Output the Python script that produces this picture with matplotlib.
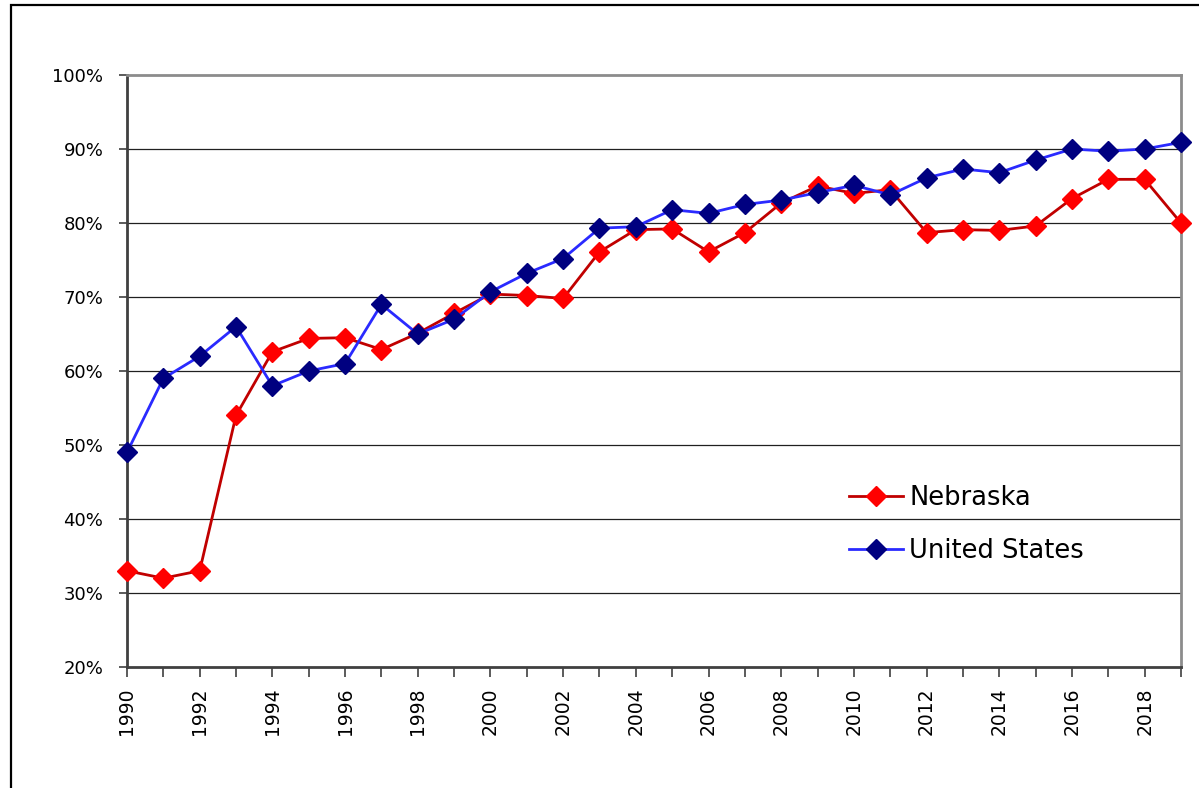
import matplotlib.pyplot as plt
from matplotlib.patches import Rectangle
from matplotlib.ticker import FuncFormatter

years = list(range(1990, 2020))
nebraska = [33, 32, 33, 54, 62.6, 64.4, 64.5, 62.9, 65.1, 67.8,
            70.4, 70.2, 69.8, 76.1, 79.1, 79.2, 76.1, 78.7, 82.7, 85.0,
            84.0, 84.5, 78.7, 79.1, 79.0, 79.6, 83.3, 85.9, 85.9, 80.0]
united_states = [49, 59, 62, 66, 58, 60, 61, 69, 65, 67,
                 70.7, 73.2, 75.2, 79.3, 79.5, 81.8, 81.3, 82.5, 83.1, 84.1,
                 85.1, 83.8, 86.1, 87.3, 86.8, 88.5, 90.0, 89.7, 90.0, 90.9]

fig = plt.figure(figsize=(11.99, 7.88), dpi=100)
ax = fig.add_axes([127 / 1199, 1 - 667 / 788, (1181 - 127) / 1199, (667 - 75) / 788])

# outer chart frame (cut off at right/bottom like the original)
fig.patches.append(Rectangle((11 / 1199, -0.05), 1.1, 1.05 - 5 / 788,
                             transform=fig.transFigure, fill=False,
                             edgecolor='black', linewidth=1.6))

ax.plot(years, nebraska, color='#c00000', lw=2, marker='D', ms=10,
        mfc='#ff0000', mec='#ff0000', label='Nebraska', clip_on=False, zorder=3)
ax.plot(years, united_states, color='#2a2aff', lw=2, marker='D', ms=10,
        mfc='#000080', mec='#000080', label='United States', clip_on=False, zorder=4)

ax.set_xlim(1990, 2019)
ax.set_ylim(20, 100)
ax.set_yticks(range(20, 101, 10))
ax.yaxis.set_major_formatter(FuncFormatter(lambda v, p: f'{v:.0f}%'))
ax.set_xticks(years)
ax.set_xticklabels([str(y) if y % 2 == 0 else '' for y in years], rotation=90)

for v in range(30, 100, 10):
    ax.axhline(v, color='#202020', lw=0.9, zorder=1)

for s in ['top', 'right']:
    ax.spines[s].set_color('#8c8c8c')
    ax.spines[s].set_linewidth(2)
for s in ['left', 'bottom']:
    ax.spines[s].set_color('#404040')
    ax.spines[s].set_linewidth(2)

ax.tick_params(axis='y', direction='out', length=6, width=1.2, color='#404040',
               labelsize=13, pad=11)
ax.tick_params(axis='x', direction='out', length=7, width=1.2, color='#404040',
               labelsize=13.5, pad=8)

ax.legend(loc='upper left', bbox_to_anchor=(0.663, 0.347), frameon=False,
          fontsize=18.5, handlelength=2.1, handletextpad=0.25, labelspacing=1.05)

fig.savefig('out.png', dpi=100)
